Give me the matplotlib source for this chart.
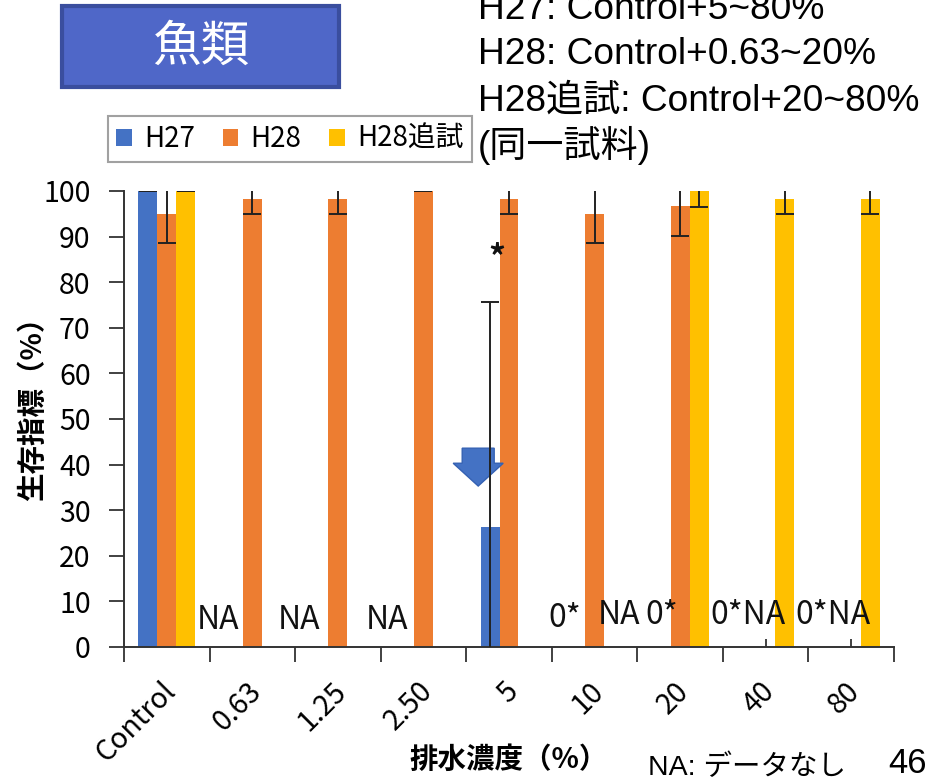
import numpy as np
import matplotlib
matplotlib.use("Agg")
import matplotlib.pyplot as plt
from matplotlib.patches import Rectangle, FancyArrow
from matplotlib.ticker import FixedLocator
from matplotlib.transforms import ScaledTranslation

plt.rcParams['font.family'] = ['Noto Sans CJK JP', 'DejaVu Sans']

# ---------------- data ----------------
categories = ['Control', '0.63', '1.25', '2.50', '5', '10', '20', '40', '80']
series_names = ['H27', 'H28', 'H28追試']
nan = np.nan
h27 = [100, nan, nan, nan, 26.4, 0, 0, 0, 0]
h27_err = [0, nan, nan, nan, 49.3, nan, nan, nan, nan]
h28 = [95, 98.3, 98.3, 100, 98.3, 95, 96.7, nan, nan]
h28_err = [6.3, 3.3, 3.3, 0, 3.3, 6.3, 6.5, nan, nan]
h28b = [100, nan, nan, nan, nan, nan, 100, 98.3, 98.3]
h28b_err = [0, nan, nan, nan, nan, nan, 3.4, 3.3, 3.3]
yticks = [0, 10, 20, 30, 40, 50, 60, 70, 80, 90, 100]

# annotation texts: (text, category index, offset within category, y value)
annotations = [
    ('NA', 1, -0.40, 5.9), ('NA', 2, -0.46, 5.9), ('NA', 3, -0.43, 5.9),
    ('0*', 5, -0.35, 6.3), ('NA', 5, 0.29, 7.0), ('0*', 6, -0.21, 7.0),
    ('0*NA', 7, -0.21, 7.0), ('0*NA', 8, -0.21, 7.0),
]
star_pos = (4, -0.14, 85.5)

colors = ['#4472C4', '#ED7D31', '#FFC000']

# ---------------- figure ----------------
W, H = 941, 780
fig = plt.figure(figsize=(W / 100, H / 100), dpi=100)
ax = fig.add_axes([124 / W, 1 - 647 / H, (894 - 124) / W, (647 - 191) / H])

x = np.arange(len(categories))
bw = 0.222
offsets = [-bw, 0, bw]
vals = [h27, h28, h28b]
errs = [h27_err, h28_err, h28b_err]
for i in range(3):
    v = np.array(vals[i], dtype=float)
    e = np.array(errs[i], dtype=float)
    xs = x + offsets[i]
    m = ~np.isnan(v)
    ax.bar(xs[m], v[m], width=bw, color=colors[i], label=series_names[i], zorder=2)
    me = m & ~np.isnan(e)
    ax.errorbar(xs[me], v[me], yerr=e[me], fmt='none', ecolor='#222222',
                elinewidth=1.4, capsize=6.5, capthick=1.4, zorder=4)

# down arrow near the 5% H27 bar
arrow_x = 4 - 0.36
ax.add_patch(FancyArrow(arrow_x, 43.6, 0, -8.3, width=0.374, head_width=0.585,
                        head_length=5.0, length_includes_head=True,
                        facecolor='#4472C4', edgecolor='#3461B3', lw=1.0, zorder=3))

for txt, ci, off, yv in annotations:
    ax.text(ci + off, yv, txt, ha='center', va='center', fontsize=23, color='#111111')
ax.text(star_pos[0] + star_pos[1], star_pos[2], '*', ha='center', va='center',
        fontsize=24, fontweight='bold', color='#111111')

ax.set_xlim(-0.5, len(categories) - 0.5)
ax.set_ylim(0, 100)
ax.set_yticks(yticks)
ax.set_yticklabels([str(t) for t in yticks])

ax.xaxis.set_major_locator(FixedLocator(np.arange(-0.5, len(categories), 1.0)))
ax.xaxis.set_minor_locator(FixedLocator(x))
ax.set_xticklabels([], minor=False)
ax.set_xticklabels(categories, minor=True, rotation=45, ha='right', va='top',
                   rotation_mode='anchor')
ax.tick_params(axis='x', which='major', direction='out', length=11, width=1.3,
               color='#333333')
ax.tick_params(axis='x', which='minor', direction='in', length=6, width=1.3,
               color='#333333', pad=21, labelsize=20.5)
ax.tick_params(axis='y', which='major', direction='out', length=11, width=1.3,
               color='#333333', pad=13, labelsize=20.5)
shift = ScaledTranslation(-6 / 100, 0, fig.dpi_scale_trans)
for lbl in ax.xaxis.get_minorticklabels():
    lbl.set_transform(lbl.get_transform() + shift)
for s in ['top', 'right']:
    ax.spines[s].set_visible(False)
for s in ['left', 'bottom']:
    ax.spines[s].set_color('#333333')
    ax.spines[s].set_linewidth(1.4)

ax.text(-0.118, 0.537, '生存指標（%）', transform=ax.transAxes, rotation=90,
        ha='center', va='center', fontsize=20.5, fontweight='bold')
ax.text(0.5, -0.248, '排水濃度（%）', transform=ax.transAxes,
        ha='center', va='center', fontsize=20.5, fontweight='bold')

# legend
leg = ax.legend(loc='center', bbox_to_anchor=(290 / W, 1 - 139 / H),
                bbox_transform=fig.transFigure, ncol=3, fontsize=20,
                handlelength=0.55, handleheight=0.55, handletextpad=0.45,
                columnspacing=1.0, frameon=True, fancybox=False,
                borderpad=0.3, borderaxespad=0)
leg.get_frame().set_edgecolor('#8a8a8a')
leg.get_frame().set_linewidth(1.5)

# title box
fig.patches.append(Rectangle((62 / W, 1 - 87 / H), (339 - 62) / W, (87 - 6) / H,
                             transform=fig.transFigure, facecolor='#4F67C8',
                             edgecolor='#3A4E9E', linewidth=3, zorder=1))
fig.text(201 / W, 1 - 47 / H, '魚類', ha='center', va='center', color='white',
         fontsize=35)

# right notes
note_font = ['Liberation Sans', 'Noto Sans CJK JP']
notes = ['H27: Control+5~80%', 'H28: Control+0.63~20%',
         'H28追試: Control+20~80%', '(同一試料)']
baselines = [19, 64, 111, 157]
for t, b in zip(notes, baselines):
    fig.text(478 / W, 1 - b / H, t, ha='left', va='baseline', fontsize=26.7,
             family=note_font)

fig.text(648 / W, 1 - 775 / H, 'NA: データなし', ha='left', va='baseline',
         fontsize=20.5, family=note_font)
fig.text(888 / W, 1 - 773 / H, '46', ha='left', va='baseline', fontsize=25,
         family=note_font)

fig.savefig('out.png', dpi=100)
